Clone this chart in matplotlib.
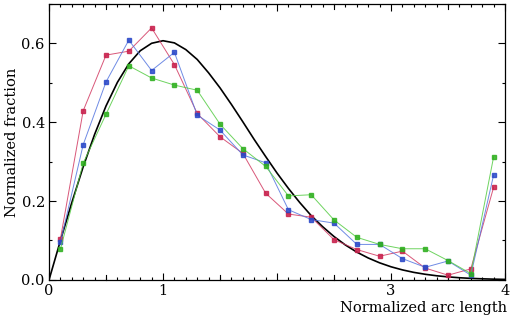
import numpy as np
import matplotlib
matplotlib.use("Agg")
import matplotlib.pyplot as plt
from matplotlib.ticker import MultipleLocator, FixedLocator, FixedFormatter

# bin centres of the histograms
x_bins = [0.1, 0.3, 0.5, 0.7, 0.9, 1.1, 1.3, 1.5, 1.7, 1.9,
          2.1, 2.3, 2.5, 2.7, 2.9, 3.1, 3.3, 3.5, 3.7, 3.9]

red_vals = [0.104, 0.429, 0.570, 0.580, 0.639, 0.546, 0.422, 0.363, 0.321, 0.220,
            0.167, 0.159, 0.102, 0.077, 0.060, 0.073, 0.030, 0.012, 0.028, 0.235]
blue_vals = [0.095, 0.343, 0.502, 0.608, 0.531, 0.577, 0.418, 0.380, 0.317, 0.297,
             0.178, 0.153, 0.144, 0.090, 0.090, 0.054, 0.032, 0.048, 0.012, 0.266]
green_vals = [0.078, 0.296, 0.420, 0.543, 0.512, 0.494, 0.481, 0.395, 0.333, 0.288,
              0.213, 0.216, 0.152, 0.108, 0.090, 0.079, 0.079, 0.049, 0.016, 0.312]

x_ref = [0.0, 0.1, 0.2, 0.3, 0.4, 0.5, 0.6, 0.7, 0.8, 0.9, 1.0,
         1.1, 1.2, 1.3, 1.4, 1.5, 1.6, 1.7, 1.8, 1.9, 2.0,
         2.1, 2.2, 2.3, 2.4, 2.5, 2.6, 2.7, 2.8, 2.9, 3.0,
         3.1, 3.2, 3.3, 3.4, 3.5, 3.6, 3.7, 3.8, 3.9, 4.0]
y_ref = [0.0, 0.0995, 0.196, 0.287, 0.369, 0.441, 0.501, 0.548, 0.581, 0.600, 0.6065,
         0.601, 0.584, 0.559, 0.525, 0.487, 0.445, 0.401, 0.356, 0.313, 0.271,
         0.232, 0.196, 0.163, 0.135, 0.110, 0.0885, 0.0705, 0.0556, 0.0433, 0.0333,
         0.0254, 0.0191, 0.0143, 0.0105, 0.0077, 0.0055, 0.0039, 0.0028, 0.0019, 0.0013]

x_tick_pos = [0, 1, 2, 3, 4]
x_tick_labels = ["0", "1", "", "3", "4"]
y_tick_pos = [0.0, 0.2, 0.4, 0.6]
y_tick_labels = ["0.0", "0.2", "0.4", "0.6"]

plt.rcParams["font.family"] = ["DejaVu Serif"]
plt.rcParams["font.size"] = 10.5

fig = plt.figure(figsize=(5.11, 3.21), dpi=100)
ax = fig.add_axes([0.0959, 0.128, 0.8924, 0.860])

ax.plot(x_ref, y_ref, color="black", lw=1.2, zorder=2, solid_joinstyle="round")
ax.plot(x_bins, red_vals, color="#d23a62", lw=0.7, alpha=0.85,
        marker="s", ms=2.3, mfc="#c8204c", mec="#c8204c", zorder=3)
ax.plot(x_bins, blue_vals, color="#5677e0", lw=0.7, alpha=0.85,
        marker="s", ms=2.3, mfc="#2a48c8", mec="#2a48c8", zorder=3)
ax.plot(x_bins, green_vals, color="#55cc44", lw=0.7, alpha=0.85,
        marker="s", ms=2.3, mfc="#30b020", mec="#30b020", zorder=3)

ax.set_xlim(0, 4)
ax.set_ylim(0, 0.7)

ax.xaxis.set_major_locator(FixedLocator(x_tick_pos))
ax.xaxis.set_major_formatter(FixedFormatter(x_tick_labels))
ax.xaxis.set_minor_locator(MultipleLocator(0.1))
ax.yaxis.set_major_locator(FixedLocator(y_tick_pos))
ax.yaxis.set_major_formatter(FixedFormatter(y_tick_labels))
ax.yaxis.set_minor_locator(MultipleLocator(0.1))

ax.tick_params(which="both", direction="in", top=True, right=True, width=0.8)
ax.tick_params(which="major", length=5, pad=3)
ax.tick_params(which="minor", length=2.5)
# half-unit ticks on x are drawn a little longer
for xv in [0.5, 1.5, 2.5, 3.5]:
    ax.plot([xv, xv], [0, 0.012], color="black", lw=0.8, clip_on=False, zorder=1)
    ax.plot([xv, xv], [0.7, 0.688], color="black", lw=0.8, clip_on=False, zorder=1)

for sp in ax.spines.values():
    sp.set_linewidth(0.9)

ax.set_ylabel("Normalized fraction", labelpad=2)
ax.set_xlabel("Normalized arc length", ha="right", labelpad=0)
ax.xaxis.set_label_coords(1.005, -0.075)

fig.savefig("out.png", dpi=100)
